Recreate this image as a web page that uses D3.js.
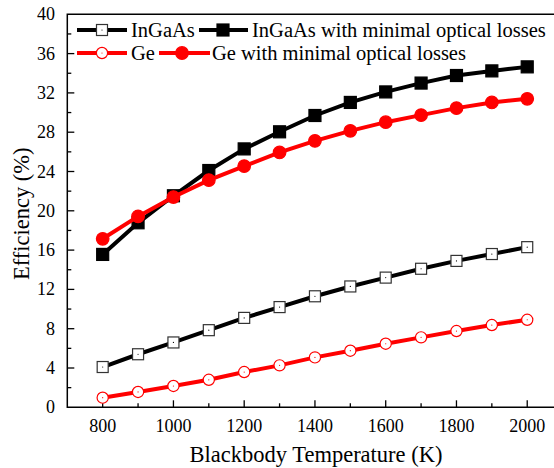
<!DOCTYPE html>
<html>
<head>
<meta charset="utf-8">
<script src="https://cdn.jsdelivr.net/npm/d3@7"></script>
<style>
  body { margin: 0; background: #fff; }
  svg text { font-family: "Liberation Serif", "Times New Roman", "DejaVu Serif", serif; fill: #000; }
</style>
</head>
<body>
<div class="chart"></div>
<script>
var temps = [800, 900, 1000, 1100, 1200, 1300, 1400, 1500, 1600, 1700, 1800, 1900, 2000];
var ingaas = [4.1, 5.4, 6.6, 7.85, 9.1, 10.2, 11.3, 12.3, 13.2, 14.1, 14.9, 15.6, 16.3];
var ingaasMin = [15.56, 18.78, 21.53, 24.1, 26.3, 28.04, 29.7, 31.03, 32.1, 33.0, 33.77, 34.24, 34.65];
var ge = [0.98, 1.56, 2.17, 2.8, 3.59, 4.27, 5.08, 5.76, 6.47, 7.12, 7.76, 8.37, 8.91];
var geMin = [17.15, 19.43, 21.4, 23.12, 24.55, 25.94, 27.12, 28.14, 29.02, 29.74, 30.45, 31.03, 31.4];

var xTicks = [800, 1000, 1200, 1400, 1600, 1800, 2000];
var yTicks = [0, 4, 8, 12, 16, 20, 24, 28, 32, 36, 40];

var series = [
  {name: 'InGaAs', values: ingaas, color: '#000', shape: 'square', filled: false},
  {name: 'InGaAs with minimal optical losses', values: ingaasMin, color: '#000', shape: 'square', filled: true},
  {name: 'Ge', values: ge, color: '#ff0000', shape: 'circle', filled: false},
  {name: 'Ge with minimal optical losses', values: geMin, color: '#ff0000', shape: 'circle', filled: true}
];

var width = 554, height = 468;
var svg = d3.select('.chart').append('svg')
    .attr('width', width).attr('height', height);

var x = d3.scaleLinear().domain([700, 2100]).range([67.3, 562.6]);
var y = d3.scaleLinear().domain([0, 40]).range([407.3, 14.3]);

// frame
var x0 = x(700), x1 = x(2100), y0 = y(0), y1 = y(40);
svg.append('path')
    .attr('d', 'M' + x1 + ',' + y1 + 'H' + x0 + 'V' + y0 + 'H' + x1)
    .attr('fill', 'none').attr('stroke', '#000').attr('stroke-width', 1.5);

// ticks (inward)
var g = svg.append('g');
g.selectAll('.xmin').data(d3.range(700, 2100, 100).filter(d => d > 700))
  .join('line')
    .attr('x1', d => x(d)).attr('x2', d => x(d))
    .attr('y1', y0).attr('y2', d => y0 - (d % 200 === 0 ? 7 : 4))
    .attr('stroke', '#000').attr('stroke-width', 1.3);
g.selectAll('.ymin').data(d3.range(2, 40, 2))
  .join('line')
    .attr('y1', d => y(d)).attr('y2', d => y(d))
    .attr('x1', x0).attr('x2', d => x0 + (d % 4 === 0 ? 7 : 4))
    .attr('stroke', '#000').attr('stroke-width', 1.3);

svg.selectAll('.xlab').data(xTicks)
  .join('text')
    .attr('x', d => x(d)).attr('y', 432)
    .attr('text-anchor', 'middle')
    .style('font-size', '18px')
    .text(d => d);
svg.selectAll('.ylab').data(yTicks)
  .join('text')
    .attr('x', 55).attr('y', d => y(d) + 6)
    .attr('text-anchor', 'end')
    .style('font-size', '18px')
    .text(d => d);

svg.append('text')
    .attr('x', 316).attr('y', 462)
    .attr('text-anchor', 'middle')
    .style('font-size', '22.5px')
    .text('Blackbody Temperature (K)');
svg.append('text')
    .attr('transform', 'translate(28.5,' + ((y0 + y1) / 2 + 3) + ') rotate(-90)')
    .attr('text-anchor', 'middle')
    .style('font-size', '22.5px')
    .text('Efficiency (%)');

function drawMarker(sel, s) {
  if (s.shape === 'square') {
    var sz = s.filled ? 12 : 11;
    sel.append('rect')
        .attr('x', -sz / 2).attr('y', -sz / 2)
        .attr('width', sz).attr('height', sz)
        .attr('fill', s.filled ? s.color : '#fff')
        .attr('stroke', s.filled ? s.color : '#333')
        .attr('stroke-width', 1.2);
  } else {
    sel.append('circle')
        .attr('r', s.filled ? 6.3 : 5.6)
        .attr('fill', s.filled ? s.color : '#fff')
        .attr('stroke', s.color)
        .attr('stroke-width', 1.2);
  }
  if (!s.filled) {
    sel.append('circle').attr('r', 0.6).attr('fill', s.color);
  }
}

var line = d3.line()
    .x(d => x(d[0]))
    .y(d => y(d[1]));

series.forEach(function (s) {
  var pts = temps.map((t, i) => [t, s.values[i]]);
  svg.append('path')
      .datum(pts)
      .attr('d', line)
      .attr('fill', 'none')
      .attr('stroke', s.color)
      .attr('stroke-width', 4);
  svg.append('g').selectAll('g')
    .data(pts)
    .join('g')
      .attr('transform', d => 'translate(' + x(d[0]) + ',' + y(d[1]) + ')')
      .each(function () { drawMarker(d3.select(this), s); });
});

// legend
var legendPos = [
  {lx: 77, cx: 102, rx: 127, tx: 131, cy: 30},
  {lx: 199, cx: 223, rx: 248, tx: 252, cy: 30},
  {lx: 77, cx: 102, rx: 127, tx: 131, cy: 53},
  {lx: 159, cx: 182, rx: 210, tx: 212, cy: 53}
];
series.forEach(function (s, i) {
  var p = legendPos[i];
  var lg = svg.append('g');
  lg.append('line')
      .attr('x1', p.lx).attr('x2', p.rx)
      .attr('y1', p.cy).attr('y2', p.cy)
      .attr('stroke', s.color).attr('stroke-width', 4);
  drawMarker(lg.append('g').attr('transform', 'translate(' + p.cx + ',' + p.cy + ')'), s);
  lg.append('text')
      .attr('x', p.tx).attr('y', p.cy + 7)
      .style('font-size', '20.5px')
      .text(s.name);
});
</script>
</body>
</html>
